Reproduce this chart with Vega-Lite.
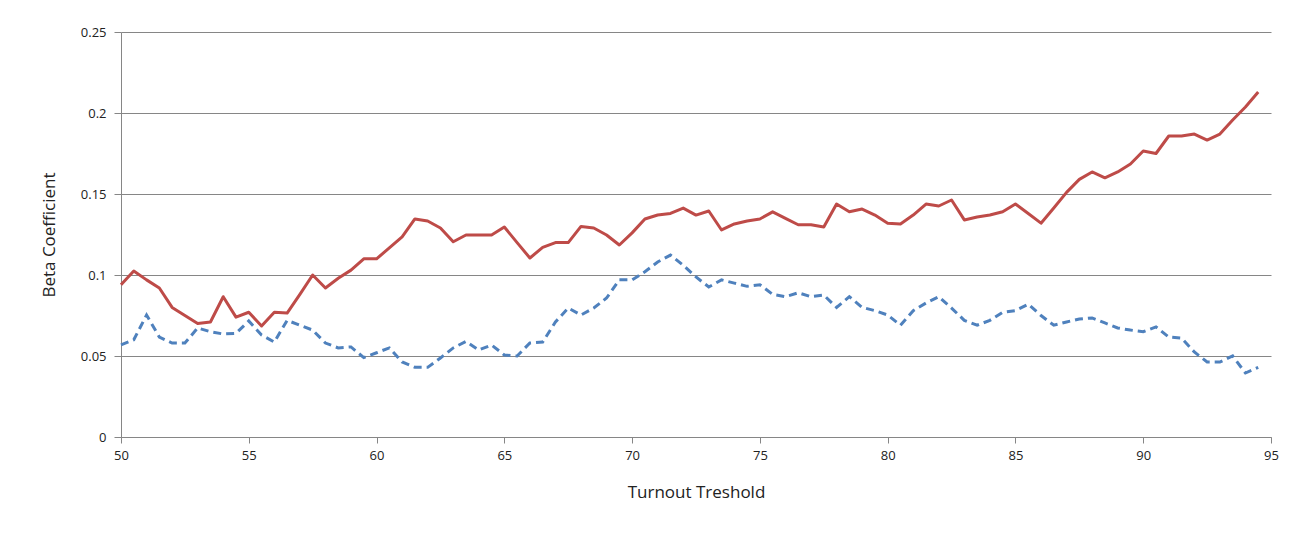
{
  "$schema": "https://vega.github.io/schema/vega-lite/v6.json",
  "width": 1150,
  "height": 405,
  "autosize": {"type": "none"},
  "padding": {"left": 121, "top": 32, "right": 34, "bottom": 98},
  "background": "white",
  "config": {
    "view": {"stroke": null},
    "font": "Open Sans",
    "axis": {
      "labelFont": "Open Sans",
      "titleFont": "Open Sans",
      "labelColor": "#222222",
      "titleColor": "#222222",
      "domainColor": "#868686",
      "tickColor": "#868686",
      "gridColor": "#868686",
      "labelFontSize": 13,
      "titleFontSize": 17,
      "titleFontWeight": "normal"
    }
  },
  "data": {
    "values": [
      {"t": 50, "upper": 0.094, "lower": 0.0568},
      {"t": 50.5, "upper": 0.1025, "lower": 0.06},
      {"t": 51, "upper": 0.097, "lower": 0.0753},
      {"t": 51.5, "upper": 0.092, "lower": 0.0617},
      {"t": 52, "upper": 0.08, "lower": 0.058},
      {"t": 52.5, "upper": 0.075, "lower": 0.058},
      {"t": 53, "upper": 0.07, "lower": 0.0673},
      {"t": 53.5, "upper": 0.071, "lower": 0.065},
      {"t": 54, "upper": 0.0866, "lower": 0.0636},
      {"t": 54.5, "upper": 0.074, "lower": 0.064},
      {"t": 55, "upper": 0.077, "lower": 0.0716},
      {"t": 55.5, "upper": 0.0685, "lower": 0.063},
      {"t": 56, "upper": 0.077, "lower": 0.0586},
      {"t": 56.5, "upper": 0.0765, "lower": 0.072},
      {"t": 57, "upper": 0.088, "lower": 0.069},
      {"t": 57.5, "upper": 0.1, "lower": 0.066},
      {"t": 58, "upper": 0.092, "lower": 0.058},
      {"t": 58.5, "upper": 0.098, "lower": 0.055},
      {"t": 59, "upper": 0.103, "lower": 0.0556},
      {"t": 59.5, "upper": 0.11, "lower": 0.049},
      {"t": 60, "upper": 0.11, "lower": 0.052},
      {"t": 60.5, "upper": 0.1167, "lower": 0.055},
      {"t": 61, "upper": 0.1235, "lower": 0.0463},
      {"t": 61.5, "upper": 0.1346, "lower": 0.043},
      {"t": 62, "upper": 0.1333, "lower": 0.043},
      {"t": 62.5, "upper": 0.129, "lower": 0.0488},
      {"t": 63, "upper": 0.1205, "lower": 0.055},
      {"t": 63.5, "upper": 0.1247, "lower": 0.059},
      {"t": 64, "upper": 0.1247, "lower": 0.0537},
      {"t": 64.5, "upper": 0.1247, "lower": 0.0568},
      {"t": 65, "upper": 0.1296, "lower": 0.0506},
      {"t": 65.5, "upper": 0.12, "lower": 0.05},
      {"t": 66, "upper": 0.1105, "lower": 0.058},
      {"t": 66.5, "upper": 0.117, "lower": 0.0586},
      {"t": 67, "upper": 0.12, "lower": 0.071},
      {"t": 67.5, "upper": 0.12, "lower": 0.0796},
      {"t": 68, "upper": 0.13, "lower": 0.0753},
      {"t": 68.5, "upper": 0.129, "lower": 0.0796},
      {"t": 69, "upper": 0.1247, "lower": 0.0858},
      {"t": 69.5, "upper": 0.1185, "lower": 0.097},
      {"t": 70, "upper": 0.126, "lower": 0.097},
      {"t": 70.5, "upper": 0.1346, "lower": 0.102},
      {"t": 71, "upper": 0.137, "lower": 0.108},
      {"t": 71.5, "upper": 0.138, "lower": 0.1123},
      {"t": 72, "upper": 0.1413, "lower": 0.106},
      {"t": 72.5, "upper": 0.137, "lower": 0.0988},
      {"t": 73, "upper": 0.1395, "lower": 0.0926},
      {"t": 73.5, "upper": 0.1278, "lower": 0.097},
      {"t": 74, "upper": 0.1315, "lower": 0.095},
      {"t": 74.5, "upper": 0.1333, "lower": 0.093},
      {"t": 75, "upper": 0.1346, "lower": 0.094},
      {"t": 75.5, "upper": 0.139, "lower": 0.088},
      {"t": 76, "upper": 0.135, "lower": 0.0866},
      {"t": 76.5, "upper": 0.131, "lower": 0.089},
      {"t": 77, "upper": 0.131, "lower": 0.0866},
      {"t": 77.5, "upper": 0.1296, "lower": 0.0876},
      {"t": 78, "upper": 0.1438, "lower": 0.08},
      {"t": 78.5, "upper": 0.139, "lower": 0.0866},
      {"t": 79, "upper": 0.1407, "lower": 0.08},
      {"t": 79.5, "upper": 0.137, "lower": 0.078},
      {"t": 80, "upper": 0.132, "lower": 0.0753},
      {"t": 80.5, "upper": 0.1315, "lower": 0.069},
      {"t": 81, "upper": 0.137, "lower": 0.078},
      {"t": 81.5, "upper": 0.1438, "lower": 0.0827},
      {"t": 82, "upper": 0.1426, "lower": 0.0866},
      {"t": 82.5, "upper": 0.1463, "lower": 0.0796},
      {"t": 83, "upper": 0.134, "lower": 0.072},
      {"t": 83.5, "upper": 0.1358, "lower": 0.069},
      {"t": 84, "upper": 0.137, "lower": 0.072},
      {"t": 84.5, "upper": 0.139, "lower": 0.077},
      {"t": 85, "upper": 0.1438, "lower": 0.078},
      {"t": 85.5, "upper": 0.138, "lower": 0.082},
      {"t": 86, "upper": 0.132, "lower": 0.075},
      {"t": 86.5, "upper": 0.1413, "lower": 0.069},
      {"t": 87, "upper": 0.151, "lower": 0.071},
      {"t": 87.5, "upper": 0.159, "lower": 0.0728},
      {"t": 88, "upper": 0.1636, "lower": 0.0735},
      {"t": 88.5, "upper": 0.16, "lower": 0.0704},
      {"t": 89, "upper": 0.1636, "lower": 0.0673},
      {"t": 89.5, "upper": 0.1685, "lower": 0.066},
      {"t": 90, "upper": 0.1765, "lower": 0.065},
      {"t": 90.5, "upper": 0.175, "lower": 0.068},
      {"t": 91, "upper": 0.1858, "lower": 0.0617},
      {"t": 91.5, "upper": 0.1858, "lower": 0.061},
      {"t": 92, "upper": 0.187, "lower": 0.0525},
      {"t": 92.5, "upper": 0.1833, "lower": 0.0463},
      {"t": 93, "upper": 0.187, "lower": 0.0463},
      {"t": 93.5, "upper": 0.1957, "lower": 0.05},
      {"t": 94, "upper": 0.2037, "lower": 0.0395},
      {"t": 94.5, "upper": 0.213, "lower": 0.043}
    ]
  },
  "layer": [
    {
      "mark": {"type": "line", "color": "#BE4B48", "strokeWidth": 3, "strokeJoin": "round"},
      "encoding": {
        "x": {
          "field": "t", "type": "quantitative",
          "scale": {"domain": [50, 95], "nice": false, "zero": false},
          "axis": {"values": [50, 55, 60, 65, 70, 75, 80, 85, 90, 95], "grid": false, "labelFlush": false, "title": "Turnout Treshold", "tickSize": 6, "labelPadding": 6, "titlePadding": 22}
        },
        "y": {
          "field": "upper", "type": "quantitative",
          "scale": {"domain": [0, 0.25], "nice": false},
          "axis": {"values": [0, 0.05, 0.1, 0.15, 0.2, 0.25], "format": "~g", "grid": true, "labelFlush": false, "title": "Beta Coefficient", "tickSize": 7, "labelPadding": 8, "titlePadding": 22}
        }
      }
    },
    {
      "mark": {"type": "line", "color": "#4F81BD", "strokeWidth": 3, "strokeDash": [8, 5]},
      "encoding": {
        "x": {"field": "t", "type": "quantitative"},
        "y": {"field": "lower", "type": "quantitative"}
      }
    }
  ]
}
